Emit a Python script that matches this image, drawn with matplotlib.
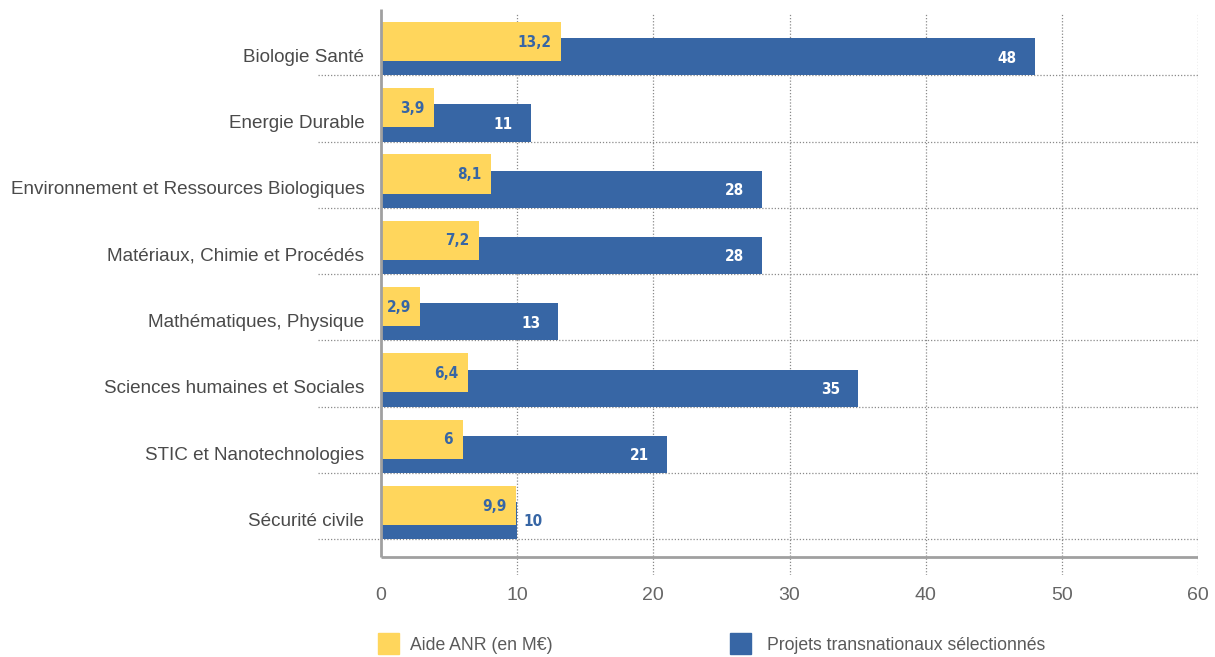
import numpy as np
import matplotlib.pyplot as plt
from matplotlib.patches import Rectangle

# données : aide ANR (M€) et nombre de projets transnationaux par domaine
domaines = ["Biologie Santé", "Energie Durable",
            "Environnement et Ressources Biologiques",
            "Matériaux, Chimie et Procédés", "Mathématiques, Physique",
            "Sciences humaines et Sociales", "STIC et Nanotechnologies",
            "Sécurité civile"]
aide = [13.2, 3.9, 8.1, 7.2, 2.9, 6.4, 6, 9.9]
projets = [48, 11, 28, 28, 13, 35, 21, 10]
aide_txt = ["13,2", "3,9", "8,1", "7,2", "2,9", "6,4", "6", "9,9"]

jaune = "#FFD65C"
bleu = "#3766A5"
gris = "#5a5a5a"

plt.rcParams['font.family'] = ['Liberation Sans', 'DejaVu Sans']

fig = plt.figure(figsize=(12.15, 6.57), dpi=100)
W, H = 1215, 657
ax = fig.add_axes([381 / W, (H - 575) / H, (1198 - 381) / W, (575 - 12) / H])

y = np.arange(len(domaines))
y_axe = 7.77  # position de la ligne de base (axe des x)

# barres bleues d'abord, les jaunes par-dessus
ax.barh(y + 0.22, projets, height=0.56, color=bleu, zorder=3)
ax.barh(y - 0.01, aide, height=0.59, color=jaune, zorder=4)

ax.set_xlim(0, 60)
ax.set_ylim(8.04, -0.455)

# grille verticale en pointillés
for xv in range(10, 61, 10):
    ax.plot([xv, xv], [8.04, -0.42], color="#8a8a8a", lw=0.9,
            ls=(0, (1, 1.5)), zorder=1)
# séparateurs horizontaux, prolongés à gauche de l'axe
for yi in y:
    ax.plot([-4.6, 60], [yi + 0.5, yi + 0.5], color="#8a8a8a", lw=0.9,
            ls=(0, (1, 1.5)), zorder=2, clip_on=False)

# axes dessinés à la main
ax.plot([0, 60], [y_axe, y_axe], color="#a0a0a0", lw=2, zorder=5,
        solid_capstyle="butt")
ax.plot([0, 0], [y_axe, -0.5], color="#a0a0a0", lw=2, zorder=5,
        solid_capstyle="butt", clip_on=False)

for s in ax.spines.values():
    s.set_visible(False)

ax.set_xticks(range(0, 61, 10))
ax.tick_params(axis="x", length=0, pad=9, labelsize=14, labelcolor="#666666")
ax.set_yticks(y + 0.2)
ax.set_yticklabels(domaines)
ax.tick_params(axis="y", length=0, pad=12, labelsize=13.6, labelcolor="#4a4a4a")

# étiquettes de valeurs
lab = dict(fontsize=11, fontweight="bold", family="DejaVu Sans",
           fontstretch="condensed", va="center", zorder=6)
for i in y:
    ax.text(aide[i] - 0.7, i, aide_txt[i], color=bleu, ha="right", **lab)
    if projets[i] - aide[i] > 2:
        ax.text(projets[i] - 1.3, i + 0.24, str(projets[i]),
                color="white", ha="right", **lab)
    else:
        ax.text(projets[i] + 0.45, i + 0.24, str(projets[i]),
                color=bleu, ha="left", **lab)

# légende
fig.patches.append(Rectangle((378 / W, (H - 654) / H), 21 / W, 21 / H,
                             color=jaune, transform=fig.transFigure))
fig.text(410 / W, (H - 645) / H, "Aide ANR (en M€)", fontsize=12.7,
         color=gris, va="center")
fig.patches.append(Rectangle((730 / W, (H - 654) / H), 21 / W, 21 / H,
                             color=bleu, transform=fig.transFigure))
fig.text(767 / W, (H - 645) / H, "Projets transnationaux sélectionnés",
         fontsize=12.7, color=gris, va="center")

fig.savefig("out.png", dpi=100)
